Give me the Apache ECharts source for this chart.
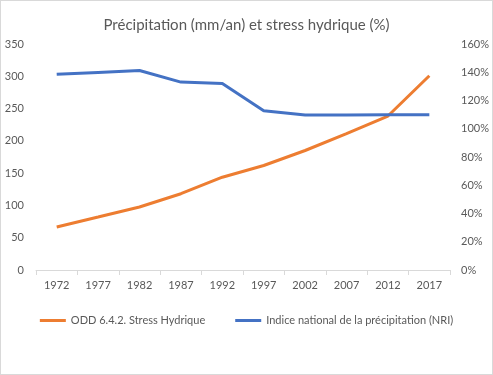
<!DOCTYPE html>
<html>
<head>
<meta charset="utf-8">
<script src="https://cdn.jsdelivr.net/npm/echarts@6/dist/echarts.min.js"></script>
<style>
  html, body { margin: 0; padding: 0; background: #fff; }
  #chart { width: 491px; height: 373px; border: 1px solid #d9d9d9; }
</style>
</head>
<body>
<div id="chart"></div>
<script>
// data
var years = ["1972", "1977", "1982", "1987", "1992", "1997", "2002", "2007", "2012", "2017"];
var stressHydrique = [30.5, 37.5, 44.6, 54, 65.7, 74, 84.6, 96.5, 109, 137.5];
var nri = [303, 306, 309, 291, 289, 246.5, 240, 240, 240.5, 240.5];

var myChart = echarts.init(document.getElementById("chart"));
var textColor = "#595959";
var fontFam = "Lato, 'Open Sans', sans-serif";

var option = {
    title: {
        text: "Précipitation (mm/an) et stress hydrique (%)",
        left: "center",
        top: 12,
        textStyle: { color: textColor, fontSize: 15, fontWeight: "normal", fontFamily: fontFam }
    },
    legend: {
        bottom: 43,
        left: "center",
        itemWidth: 26,
        itemHeight: 3,
        itemGap: 30,
        icon: "rect",
        textStyle: { color: textColor, fontSize: 11, fontFamily: fontFam },
        data: ["ODD 6.4.2. Stress Hydrique", "Indice national de la précipitation (NRI)"]
    },
    grid: { left: 35, right: 41, top: 43, bottom: 104 },
    xAxis: {
        type: "category",
        data: years,
        boundaryGap: true,
        axisLine: { lineStyle: { color: "#d9d9d9" } },
        axisTick: { show: true, length: 5, lineStyle: { color: "#d9d9d9" } },
        axisLabel: { color: textColor, fontSize: 11, fontFamily: fontFam, margin: 10 }
    },
    yAxis: [
        {
            type: "value",
            min: 0, max: 350, interval: 50,
            splitLine: { show: false },
            axisLine: { show: false },
            axisTick: { show: false },
            axisLabel: { color: textColor, fontSize: 11, fontFamily: fontFam, margin: 12 }
        },
        {
            type: "value",
            min: 0, max: 160, interval: 20,
            splitLine: { show: false },
            axisLine: { show: false },
            axisTick: { show: false },
            axisLabel: { color: textColor, fontSize: 11, fontFamily: fontFam, formatter: "{value}%", margin: 11 }
        }
    ],
    series: [
        {
            name: "ODD 6.4.2. Stress Hydrique",
            type: "line",
            yAxisIndex: 1,
            data: stressHydrique,
            symbol: "none",
            itemStyle: { color: "#ed7d31" },
            lineStyle: { color: "#ed7d31", width: 3 }
        },
        {
            name: "Indice national de la précipitation (NRI)",
            type: "line",
            yAxisIndex: 0,
            data: nri,
            symbol: "none",
            itemStyle: { color: "#4472c4" },
            lineStyle: { color: "#4472c4", width: 3 }
        }
    ]
};

myChart.setOption(option);
</script>
</body>
</html>
